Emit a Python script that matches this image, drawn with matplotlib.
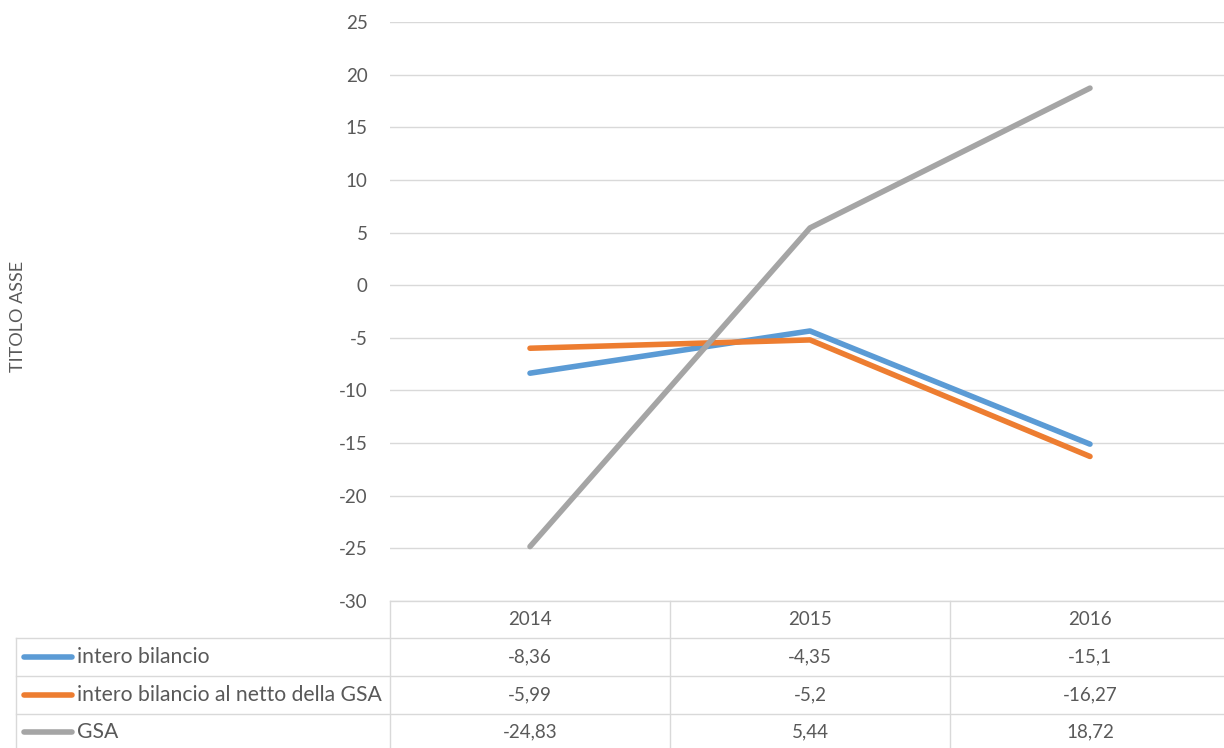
import numpy as np
import matplotlib.pyplot as plt
from matplotlib.lines import Line2D
import matplotlib.transforms as mtransforms

# ==========================
# Data
# ==========================

years = ["2014", "2015", "2016"]

intero_bilancio = [-8.36, -4.35, -15.1]
intero_netto_gsa = [-5.99, -5.2, -16.27]
gsa = [-24.83, 5.44, 18.72]

series_names = ["intero bilancio", "intero bilancio al netto della GSA", "GSA"]
series_values = [intero_bilancio, intero_netto_gsa, gsa]
series_colors = ["#5B9BD5", "#ED7D31", "#A5A5A5"]

y_ticks = list(range(-30, 30, 5))

# ==========================
# Figure
# ==========================

plt.rcParams['font.family'] = ['Lato', 'DejaVu Sans']
plt.rcParams['axes.unicode_minus'] = False

W, H = 1224, 748
fig = plt.figure(figsize=(W / 100, H / 100), dpi=100)

ax_left, ax_right = 390 / W, 1230 / W
ax_top, ax_bottom = 1 - 22 / H, 1 - 601 / H
ax = fig.add_axes([ax_left, ax_bottom, ax_right - ax_left, ax_top - ax_bottom])

x = np.arange(len(years)) + 0.5

for vals, color in zip(series_values, series_colors):
    ax.plot(x, vals, color=color, linewidth=4, solid_capstyle='round',
            solid_joinstyle='round', zorder=3)

ax.set_xlim(0, len(years))
ax.set_ylim(-30, 25)
ax.set_yticks(y_ticks)
ax.set_xticks([])
ax.grid(axis='y', color='#d9d9d9', linewidth=1)
ax.set_axisbelow(True)
for s in ax.spines.values():
    s.set_visible(False)
ax.tick_params(axis='y', length=0, pad=16, labelsize=13.5, labelcolor='#595959')

fig.text(18 / W, 1 - 316 / H, "TITOLO ASSE", rotation=90, ha='center', va='center',
         fontsize=13, color='#595959')

# ==========================
# Data table
# ==========================

trans = mtransforms.blended_transform_factory(ax.transData, fig.transFigure)
grid_c = '#d9d9d9'

def fy(py):
    return 1 - py / H

row_lines = [601, 638, 676, 714]
row_centers = [619.5, 657, 695, 732]

# horizontal lines
fig.add_artist(Line2D([0, 3], [fy(601), fy(601)], transform=trans, color=grid_c, lw=1))
for py in row_lines[1:]:
    fig.add_artist(Line2D([16 / W, 1], [fy(py), fy(py)], transform=fig.transFigure,
                          color=grid_c, lw=1))

# vertical lines
for i in range(len(years) + 1):
    fig.add_artist(Line2D([i, i], [fy(601), 0], transform=trans, color=grid_c, lw=1))
fig.add_artist(Line2D([16 / W, 16 / W], [fy(638), 0], transform=fig.transFigure,
                      color=grid_c, lw=1))

# header
for xi, yr in zip(x, years):
    fig.text(xi, fy(row_centers[0]), yr, transform=trans, ha='center', va='center',
             fontsize=13.5, color='#595959')

# series rows
for r, (name, vals, color) in enumerate(zip(series_names, series_values, series_colors)):
    yc = fy(row_centers[r + 1])
    fig.add_artist(Line2D([24 / W, 72 / W], [yc, yc], transform=fig.transFigure,
                          color=color, lw=4, solid_capstyle='round'))
    fig.text(77 / W, yc, name, ha='left', va='center', fontsize=15.2, color='#595959')
    for xi, v in zip(x, vals):
        label = f"{v:g}".replace('.', ',')
        fig.text(xi, yc, label, transform=trans, ha='center', va='center',
                 fontsize=13.5, color='#595959')

plt.savefig("out.png", dpi=100)
